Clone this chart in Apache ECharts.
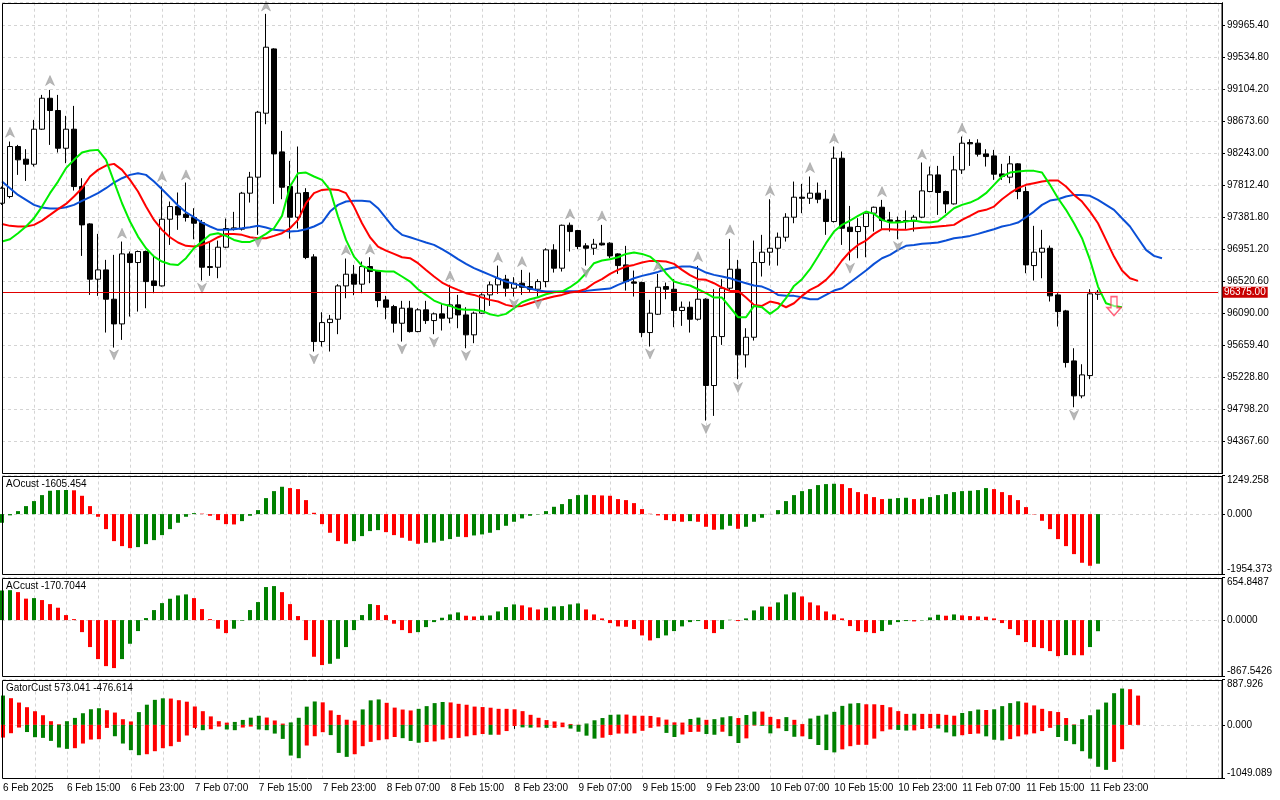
<!DOCTYPE html>
<html>
<head>
<meta charset="utf-8">
<title>H1 chart with Alligator, AO, AC and Gator</title>
<script src="https://cdn.jsdelivr.net/npm/echarts@6/dist/echarts.min.js"></script>
<style>
html, body { margin: 0; padding: 0; background: #fff; }
#chart { width: 1280px; height: 800px; }
</style>
</head>
<body>
<div id="chart"></div>
<script>
// candles: [open, close, low, high], one per hour from 6 Feb 07:00
const candles = [
[97572,97774,97550,97796],[97662,98334,97639,98401],[98334,98155,97953,98356],[98164,98096,97872,98298],
[98096,98567,98065,98692],[98567,98983,98558,99028],[98983,98818,98356,99095],[98818,98311,98253,99028],
[98311,98567,98110,98746],[98567,97796,97742,98880],[97796,97281,96864,97908],[97294,96551,96340,97303],
[96551,96676,96327,97160],[96676,96282,95834,96811],[96282,95950,95632,96878],[95950,96891,95735,97057],
[96891,96775,96049,96923],[96775,96923,96116,96936],[96923,96519,96161,96936],[96528,96466,96363,96878],
[96461,97357,96452,97796],[97357,97527,97012,97595],[97527,97415,97214,97716],[97424,97380,97326,97850],
[97380,97303,97088,97505],[97312,96712,96533,97348],[96721,96708,96596,97057],[96712,96981,96564,97070],
[96981,97232,96967,97366],[97223,97241,97205,97456],[97223,97707,97205,97724],[97707,97922,97581,97993],
[97922,98795,97147,98813],[98782,99669,98634,100117],[99646,98235,97563,99655],[98262,97787,97626,98544],
[97796,97384,97097,98141],[97384,97707,97232,98334],[97716,96842,96820,97774],[96851,95713,95579,96887],
[95713,95968,95646,96107],[95968,96013,95579,96071],[96013,96461,95812,96484],[96461,96618,96295,96829],
[96618,96484,96336,96743],[96484,96721,96363,96788],[96721,96654,96497,96846],[96663,96264,96174,96676],
[96273,96174,96013,96327],[96183,95959,95834,96206],[95959,96161,95713,96260],[96161,95847,95834,96260],
[95847,96139,95838,96161],[96139,95995,95950,96260],[95995,96085,95812,96103],[96085,96027,95861,96219],
[96027,96206,95959,96475],[96206,96071,95892,96340],[96071,95803,95623,96174],[95803,96094,95691,96116],
[96094,96340,96085,96363],[96340,96475,96192,96519],[96475,96560,96354,96734],[96551,96430,96318,96609],
[96430,96497,96318,96578],[96497,96443,96340,96676],[96452,96416,96381,96640],[96416,96519,96318,96551],
[96519,96945,96443,96967],[96945,96699,96640,97021],[96699,97276,96654,97285],[97276,97191,96923,97312],
[97205,96990,96954,97214],[96999,96967,96734,97035],[96967,97021,96878,97093],[97035,97012,97003,97281],
[97035,96864,96833,97048],[96891,96734,96622,96900],[96743,96519,96398,96999],[96515,96497,96318,96667],
[96506,95834,95771,96519],[95834,96094,95646,96273],[96080,96443,96071,96622],[96452,96416,96282,96506],
[96416,96130,95906,96551],[96130,96174,95924,96251],[96174,96013,95834,96251],[96013,96282,95995,96730],
[96282,95122,94651,96295],[95122,95780,94714,96416],[95780,96430,95668,96551],[96430,96685,96407,97093],
[96685,95534,95207,96811],[95534,95771,95364,95892],[95771,96775,95726,97070],[96775,96914,96587,97147],
[96914,96967,96734,97626],[96967,97115,96734,97178],[97115,97384,97057,97438],[97384,97653,97303,97863],
[97653,97639,97438,97832],[97639,97707,97563,97931],[97707,97626,97572,97850],[97626,97326,97147,97751],
[97326,98177,97312,98334],[98177,97236,97012,98267],[97250,97191,96802,97536],[97191,97259,96833,97371],
[97259,97438,96846,97460],[97438,97518,97191,97527],[97518,97339,97223,97617],[97348,97326,97191,97456],
[97326,97339,97088,97393],[97339,97330,97214,97474],[97330,97384,97191,97415],[97384,97738,97371,98119],
[97729,97953,97720,98065],[97953,97716,97415,98074],[97729,97563,97438,97742],[97563,98020,97554,98208],
[98020,98379,97966,98468],[98388,98370,98074,98432],[98379,98231,98199,98432],[98235,98199,98065,98298],
[98208,97962,97886,98289],[97966,97931,97886,98101],[97922,98101,97841,98208],[98101,97729,97626,98110],
[97729,96743,96631,97796],[96734,96914,96533,97268],[96914,96967,96564,97214],[96967,96327,96251,97003],
[96340,96116,95915,96363],[96125,95431,95364,96139],[95453,94983,94830,95623],[94983,95265,94951,95408],
[95256,96354,95207,96416],[96349,96375,96273,96407]
];

// alligator lines (already shifted forward: jaw 8, teeth 5, lips 3)
const jaw = [
97863,97774,97684,97617,97550,97514,97500,97500,97518,97550,
97604,97653,97707,97774,97850,97908,97953,97975,97953,97863,
97760,97653,97541,97451,97384,97312,97259,97214,97214,97223,
97236,97250,97268,97245,97214,97205,97191,97200,97223,97259,
97312,97460,97550,97595,97604,97604,97595,97505,97371,97236,
97147,97115,97079,97044,97012,96954,96891,96820,96757,96699,
96654,96609,96564,96519,96488,96461,96425,96398,96385,96385,
96385,96390,96390,96394,96407,96416,96425,96475,96519,96564,
96596,96622,96649,96685,96708,96721,96721,96694,96640,96609,
96587,96564,96528,96497,96466,96452,96407,96340,96327,96327,
96309,96282,96282,96340,96398,96430,96506,96587,96667,96757,
96833,96878,96945,96999,97012,97026,97035,97044,97070,97102,
97115,97133,97160,97191,97223,97259,97281,97312,97384,97460,
97550,97608,97626,97662,97684,97684,97671,97617,97550,97483,
97371,97259,97102,96945,96864,96833
];
const teeth = [
97294,97268,97259,97259,97281,97339,97415,97492,97563,97662,
97774,97931,98020,98078,98101,98020,97886,97729,97527,97348,
97214,97115,97044,96999,96990,97012,97057,97115,97160,97160,
97147,97115,97102,97102,97133,97169,97236,97348,97572,97707,
97751,97760,97751,97707,97527,97303,97115,96990,96936,96891,
96846,96833,96766,96676,96587,96506,96452,96407,96363,96340,
96304,96273,96251,96206,96183,96192,96228,96260,96291,96318,
96340,96372,96385,96421,96497,96551,96622,96676,96721,96743,
96775,96797,96797,96788,96757,96676,96605,96551,96542,96497,
96439,96394,96394,96304,96206,96192,96251,96228,96174,96228,
96327,96407,96461,96542,96654,96802,96923,97012,97070,97160,
97223,97223,97214,97214,97232,97241,97250,97259,97268,97281,
97348,97402,97460,97483,97527,97626,97707,97774,97819,97841,
97863,97877,97877,97796,97684,97595,97460,97303,97079,96855,
96667,96564,96528
];
const lips = [
97057,97088,97169,97259,97371,97527,97707,97863,98043,98155,
98253,98280,98289,98155,97863,97572,97326,97124,96967,96855,
96788,96752,96743,96833,96967,97057,97147,97169,97133,97079,
97052,97052,97097,97160,97236,97402,97796,97975,97984,97931,
97886,97751,97393,97079,96855,96730,96685,96663,96654,96654,
96587,96519,96416,96340,96264,96219,96192,96152,96139,96139,
96125,96080,96058,96085,96161,96242,96282,96309,96349,96375,
96385,96443,96519,96631,96766,96802,96820,96846,96891,96909,
96891,96855,96766,96631,96519,96488,96466,96416,96363,96304,
96304,96174,96040,96040,96192,96174,96085,96161,96295,96461,
96551,96685,96855,97035,97191,97281,97339,97402,97460,97429,
97348,97312,97312,97326,97339,97321,97312,97330,97415,97505,
97550,97581,97630,97707,97819,97931,97984,97998,98007,98007,
97984,97819,97639,97483,97303,97102,96811,96452,96228,96192,
96174
];

// fractal markers [bar index, price]
const fractalUp = [[1,98526],[6,99221],[15,97169],[20,97931],[23,97953],[33,100224],[43,96945],[46,96954],
  [56,96596],[62,96846],[65,96788],[71,97429],[75,97402],[82,96730],[87,96855],[91,97214],[96,97742],
  [101,98052],[104,98446],[110,97729],[115,98231],[120,98580]];
const fractalDown = [[14,95534],[25,96430],[32,97048],[39,95480],[50,95614],[54,95704],[58,95525],
  [64,96219],[67,96219],[73,96640],[81,95547],[88,94544],[92,95095],[106,96699],[112,96990],[134,94723]];
const sellSignal = [[139,96190]];
const lastPrice = 96375;

const ao = [
-280,-40,97,259,421,615,755,777,780,770,
593,259,-86,-486,-874,-1036,-1101,-1068,-971,-842,
-680,-486,-280,-86,32,15,-54,-194,-324,-335,
-227,-54,129,518,744,885,842,809,453,43,
-324,-604,-874,-960,-874,-712,-550,-518,-583,-680,
-766,-863,-960,-928,-917,-863,-809,-734,-745,-691,
-658,-604,-518,-378,-248,-140,-54,-11,97,237,
324,486,615,626,615,604,593,486,453,356,
162,11,-43,-194,-227,-248,-227,-248,-410,-507,
-496,-378,-475,-410,-248,-119,5,129,421,615,
744,809,939,971,982,971,842,712,647,550,
486,496,518,529,486,496,550,615,647,712,
744,755,777,842,809,712,615,453,227,-11,
-216,-486,-809,-1036,-1295,-1575,-1672,-1605
];
const ac = [
455,460,430,330,338,308,246,190,77,15,
-185,-415,-600,-708,-738,-600,-364,-169,31,154,
261,328,379,395,338,169,15,-133,-200,-133,
-10,154,277,508,523,430,246,62,-308,-564,
-692,-672,-595,-415,-154,77,246,231,77,-56,
-154,-200,-185,-108,-31,36,87,118,67,56,
67,72,133,200,241,226,195,164,190,210,
215,241,256,164,87,26,-46,-97,-103,-138,
-236,-313,-277,-236,-169,-97,-31,-15,-138,-200,
-138,5,-15,26,149,210,205,272,395,426,
364,272,226,133,87,26,-92,-169,-185,-200,
-169,-72,-31,-15,-20,-5,41,82,67,87,
72,62,56,51,26,-46,-138,-231,-338,-415,
-431,-477,-554,-538,-540,-541,-415,-171
];
const gatorUp = [
574,522,437,346,267,189,72,13,72,137,
228,306,326,287,241,111,67,250,395,490,
520,515,483,454,360,268,166,72,44,58,
97,142,178,144,86,25,48,139,357,458,
441,283,195,101,84,303,480,498,432,338,
300,282,314,367,426,448,439,412,394,358,
349,336,314,314,305,269,197,139,94,67,
45,18,4,27,90,134,197,202,202,179,
179,175,148,103,49,45,116,143,99,112,
148,170,134,193,260,260,157,112,152,99,
18,125,179,202,255,372,417,426,403,403,
390,345,269,215,220,215,215,215,197,179,
233,269,300,291,305,367,426,461,435,381,
314,269,251,134,10,111,189,300,437,620,
711,698,573
];
const gatorDown = [
-248,-163,-52,-140,-241,-254,-313,-443,-469,-456,
-365,-287,-280,-59,-222,-365,-495,-593,-574,-515,
-456,-417,-332,-208,-59,-104,-85,-33,-90,-104,
-52,-33,-90,-104,-170,-274,-600,-652,-404,-222,
-143,-200,-548,-626,-574,-417,-332,-300,-282,-237,
-260,-314,-349,-336,-323,-287,-260,-255,-224,-202,
-179,-193,-193,-121,-22,-49,-54,-49,-58,-58,
-45,-72,-134,-211,-269,-251,-197,-170,-170,-166,
-116,-58,-31,-157,-237,-188,-139,-134,-179,-193,
-134,-220,-354,-264,-13,-18,-166,-67,-121,-233,
-224,-278,-394,-493,-538,-479,-417,-390,-390,-269,
-125,-90,-99,-112,-108,-81,-63,-72,-148,-224,
-202,-179,-170,-224,-291,-305,-278,-224,-188,-166,
-121,-58,-237,-313,-378,-515,-660,-820,-880,-724,
-477
];

const timeLabels = ['6 Feb 2025','6 Feb 15:00','6 Feb 23:00','7 Feb 07:00','7 Feb 15:00','7 Feb 23:00',
  '8 Feb 07:00','8 Feb 15:00','8 Feb 23:00','9 Feb 07:00','9 Feb 15:00','9 Feb 23:00',
  '10 Feb 07:00','10 Feb 15:00','10 Feb 23:00','11 Feb 07:00','11 Feb 15:00','11 Feb 23:00'];

const SLOTS = 153;
const cats = [];
for (let i = 0; i < SLOTS; i++) cats.push(String(i));

const FONT = 'Liberation Sans';
const GREEN = '#008000', RED = '#ff0000';
const gridDash = { color: '#d4d4d4', type: [3, 3], width: 1 };

// MT5 style colouring: green when the bar grew compared to the previous one
function tint(values, useAbs, firstColor) {
  return values.map(function (v, i) {
    let c = firstColor;
    if (i > 0) {
      const cur = useAbs ? Math.abs(v) : v;
      const prev = useAbs ? Math.abs(values[i - 1]) : values[i - 1];
      c = cur > prev ? GREEN : RED;
    }
    return { value: v, itemStyle: { color: c } };
  });
}

const tickEvery8 = function (i) { return i % 8 === 0 && i / 8 < timeLabels.length; };

function xAx(grid, bottom) {
  return {
    type: 'category', gridIndex: grid, data: cats, boundaryGap: false,
    axisLine: { show: false },
    axisTick: { show: bottom, interval: tickEvery8, length: 4, lineStyle: { color: '#000' } },
    axisLabel: {
      show: bottom, interval: tickEvery8, align: 'left', margin: 5,
      color: '#000', fontFamily: FONT, fontSize: 10,
      formatter: function (v, i) { return timeLabels[i / 8]; }
    },
    splitLine: { show: true, interval: function (i) { return i % 4 === 0 && i > 0; }, lineStyle: gridDash }
  };
}

function yAx(grid, min, max, interval, decimals, edges) {
  return {
    type: 'value', gridIndex: grid, position: 'right', offset: 4,
    min: min, max: max, interval: interval, scale: true,
    axisLine: { show: true, lineStyle: { color: '#000', width: 1 } },
    axisTick: { show: true, length: 3, lineStyle: { color: '#000' } },
    axisLabel: {
      color: '#000', fontFamily: FONT, fontSize: 10, margin: 5,
      showMinLabel: edges, showMaxLabel: edges,
      verticalAlignMinLabel: 'bottom', verticalAlignMaxLabel: 'top',
      formatter: function (v) { return v.toFixed(decimals); }
    },
    splitLine: { show: true, lineStyle: gridDash }
  };
}

const panels = [
  { top: 2.7, height: 471 },
  { top: 475.5, height: 99 },
  { top: 577.5, height: 99 },
  { top: 679.5, height: 99 }
];

const upArrow = 'path://M5,0L10,10L5,7L0,10Z';
const downArrow = 'path://M0,0L5,3L10,0L5,10Z';
const sellArrow = 'path://M4,0L10,0L10,11L14,11L7,19L0,11L4,11Z';

const chart = echarts.init(document.getElementById('chart'));

const borders = panels.map(function (p) {
  return {
    type: 'rect', silent: true, z: 100,
    shape: { x: 2.5, y: Math.round(p.top) + 0.5, width: 1219.5, height: Math.round(p.height) - 1 },
    style: { fill: 'none', stroke: '#000', lineWidth: 1 }
  };
});

function caption(text, top) {
  return { type: 'text', left: 6, top: top, z: 101, silent: true,
    style: { text: text, fill: '#000', font: '10px "' + FONT + '"' } };
}

chart.setOption({
  animation: false,
  backgroundColor: '#ffffff',
  textStyle: { fontFamily: FONT },
  grid: panels.map(function (p) {
    return { left: 2, right: 62, top: p.top, height: p.height, show: false };
  }),
  xAxis: [xAx(0, false), xAx(1, false), xAx(2, false), xAx(3, true)],
  yAxis: [
    yAx(0, 93937.0, 100267, 430.6, 2, false),
    yAx(1, -1954.373, 1249.258, 1954.373, 3, true),
    yAx(2, -867.5426, 654.8487, 867.5426, 4, true),
    yAx(3, -1049.089, 887.926, 1049.089, 3, true)
  ],
  graphic: borders.concat([
    caption('AOcust -1605.454', 479),
    caption('ACcust -170.7044', 581),
    caption('GatorCust 573.041 -476.614', 683)
  ]),
  series: [
    {
      name: 'Price', type: 'candlestick', xAxisIndex: 0, yAxisIndex: 0,
      data: candles, barWidth: 5, z: 2,
      itemStyle: { color: '#ffffff', color0: '#000000', borderColor: '#000000', borderColor0: '#000000', borderWidth: 1 },
      markLine: {
        silent: true, symbol: ['none', 'none'],
        lineStyle: { color: '#e00000', type: 'solid', width: 1 },
        label: {
          show: true, position: 'end', distance: 4,
          formatter: lastPrice.toFixed(2),
          color: '#ffffff', backgroundColor: '#c80000',
          padding: [1, 2, 0, 2], fontFamily: FONT, fontSize: 10
        },
        data: [{ yAxis: lastPrice }]
      }
    },
    { name: 'Jaw', type: 'line', xAxisIndex: 0, yAxisIndex: 0, data: jaw, showSymbol: false, z: 3,
      lineStyle: { color: '#0a4fd6', width: 2 } },
    { name: 'Teeth', type: 'line', xAxisIndex: 0, yAxisIndex: 0, data: teeth, showSymbol: false, z: 3,
      lineStyle: { color: '#ff0000', width: 2 } },
    { name: 'Lips', type: 'line', xAxisIndex: 0, yAxisIndex: 0, data: lips, showSymbol: false, z: 3,
      lineStyle: { color: '#00ee00', width: 2 } },
    { name: 'Fractal up', type: 'scatter', xAxisIndex: 0, yAxisIndex: 0, data: fractalUp, z: 4,
      symbol: upArrow, symbolSize: [9, 10], itemStyle: { color: '#a6a6a6', borderColor: '#8a8a8a', borderWidth: 0.5 } },
    { name: 'Fractal down', type: 'scatter', xAxisIndex: 0, yAxisIndex: 0, data: fractalDown, z: 4,
      symbol: downArrow, symbolSize: [9, 10], itemStyle: { color: '#a6a6a6', borderColor: '#8a8a8a', borderWidth: 0.5 } },
    { name: 'Sell', type: 'scatter', xAxisIndex: 0, yAxisIndex: 0, data: sellSignal, z: 5,
      symbol: sellArrow, symbolSize: [14, 19],
      itemStyle: { color: 'rgba(255,255,255,0.6)', borderColor: '#ff3a5a', borderWidth: 1.5 } },
    { name: 'AO', type: 'bar', xAxisIndex: 1, yAxisIndex: 1, data: tint(ao, false, GREEN), barWidth: 4 },
    { name: 'AC', type: 'bar', xAxisIndex: 2, yAxisIndex: 2, data: tint(ac, false, GREEN), barWidth: 4 },
    { name: 'Gator up', type: 'bar', xAxisIndex: 3, yAxisIndex: 3, data: tint(gatorUp, true, GREEN),
      barWidth: 4, barGap: '-100%' },
    { name: 'Gator down', type: 'bar', xAxisIndex: 3, yAxisIndex: 3, data: tint(gatorDown, true, RED),
      barWidth: 4, barGap: '-100%' }
  ]
});
</script>
</body>
</html>
